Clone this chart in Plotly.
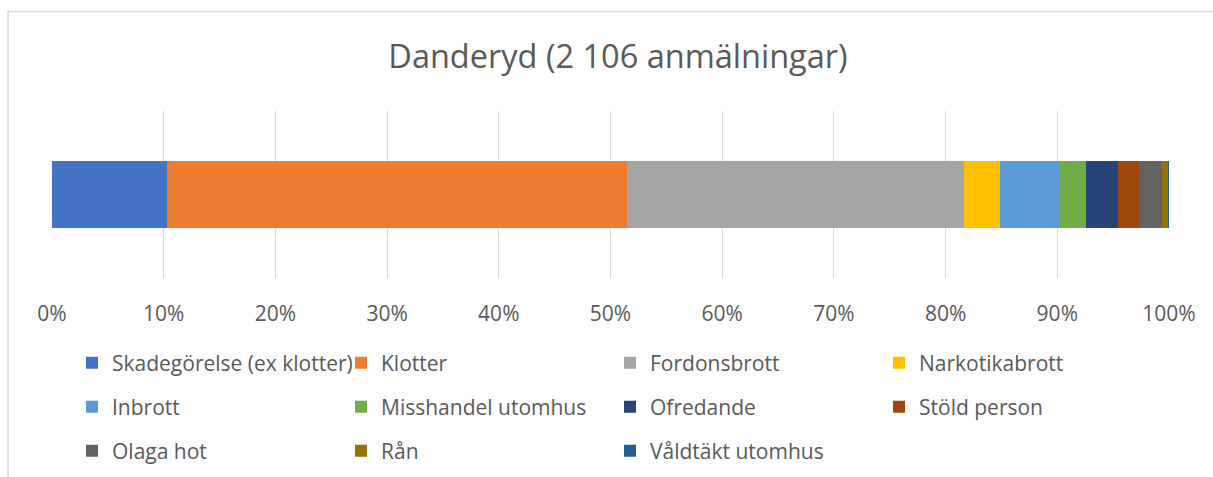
import plotly.graph_objects as go

# Reported offences in Danderyd, by category (number of reports, total 2 106)
categories = [
    "Skadegörelse (ex klotter)", "Klotter", "Fordonsbrott", "Narkotikabrott",
    "Inbrott", "Misshandel utomhus", "Ofredande", "Stöld person",
    "Olaga hot", "Rån", "Våldtäkt utomhus",
]
counts = [216, 869, 635, 68, 113, 49, 60, 40, 43, 12, 1]
colors = [
    "#4472C4", "#ED7D31", "#A5A5A5", "#FFC000", "#5B9BD5", "#70AD47",
    "#264478", "#9E480E", "#636363", "#997300", "#255E91",
]
tick_values = list(range(0, 101, 10))
tick_labels = [f"{v}%" for v in tick_values]

W, H = 1213, 477
L, R, T, B = 51.5, 43.7, 111, 199
plot_w = W - L - R
plot_h = H - T - B

TEXT = "#595959"
FONT = "Open Sans"

# legend rows of four entries each
row_of = {}
for i, name in enumerate(categories):
    row_of[name] = i // 4
legend_names = ["legend", "legend2", "legend3"]

fig = go.Figure()
for name, val, col in zip(categories, counts, colors):
    fig.add_trace(go.Bar(
        x=[val], y=["Danderyd"], orientation="h", name=name,
        marker=dict(color=col, line=dict(width=0)),
        legend=legend_names[row_of[name]],
        hovertemplate=f"{name}: %{{x:.1f}}%<extra></extra>",
    ))


def px_to_paper_x(px):
    return (px - L) / plot_w


def px_to_paper_y(py):
    return (H - B - py) / plot_h


row_centers = [363, 407, 451]
legend_common = dict(
    orientation="h", xanchor="left", yanchor="middle",
    xref="container", yref="container",
    entrywidth=224, entrywidthmode="pixels",
    font=dict(family=FONT, size=21, color=TEXT),
    bgcolor="rgba(0,0,0,0)", itemwidth=30, traceorder="normal",
)
legends = {}
for k, lname in enumerate(legend_names):
    legends[lname] = dict(
        x=72 / W, y=1 - row_centers[k] / H, **legend_common
    )

fig.update_layout(
    width=W, height=H,
    margin=dict(l=L, r=R, t=T, b=B, pad=0, autoexpand=False),
    barmode="stack", barnorm="percent", bargap=0.6,
    paper_bgcolor="white", plot_bgcolor="white",
    font=dict(family=FONT, color=TEXT),
    title=dict(
        text="Danderyd (2 106 anmälningar)",
        font=dict(family=FONT, size=32.5, color=TEXT),
        x=618 / W, xanchor="center", xref="container",
        y=1 - 57 / H, yanchor="middle", yref="container",
    ),
    xaxis=dict(
        range=[0, 100], tickvals=tick_values, ticktext=tick_labels,
        showgrid=True, gridcolor="#D9D9D9", gridwidth=1.2,
        zeroline=False, showline=False, ticks="",
        ticklabelstandoff=21,
        tickfont=dict(family=FONT, size=21, color=TEXT),
    ),
    yaxis=dict(
        showticklabels=False, showgrid=False, zeroline=False,
        showline=False, ticks="",
    ),
    showlegend=True,
    **legends,
)

# light chart-area frame (top and left edges)
fig.add_shape(type="line", xref="paper", yref="paper",
              x0=px_to_paper_x(7), x1=px_to_paper_x(1230),
              y0=px_to_paper_y(11.5), y1=px_to_paper_y(11.5),
              line=dict(color="#D9D9D9", width=1.5))
fig.add_shape(type="line", xref="paper", yref="paper",
              x0=px_to_paper_x(7.5), x1=px_to_paper_x(7.5),
              y0=px_to_paper_y(11), y1=px_to_paper_y(490),
              line=dict(color="#D9D9D9", width=1.5))

fig.write_html("out.html")
